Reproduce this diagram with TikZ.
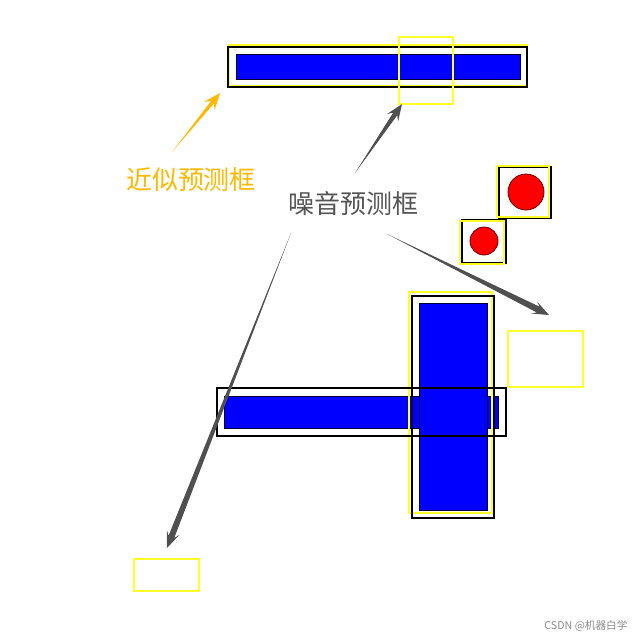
\documentclass[tikz,border=0pt]{standalone}
\usepackage{fontspec}
\newfontfamily\cjk{Noto Sans CJK SC}
\usetikzlibrary{calc}

\definecolor{approxorange}{RGB}{255,185,0}
\definecolor{noisegray}{RGB}{80,80,80}
\definecolor{labelgray}{RGB}{85,85,85}
\definecolor{boxyellow}{RGB}{255,255,40}

\tikzset{
  gtbox/.style={draw=black, line width=1.5pt},
  predbox/.style={draw=boxyellow, line width=1.5pt},
  bluebar/.style={fill=blue, draw=black!80!blue, line width=0.6pt},
  redball/.style={fill=red, draw=black!60!red, line width=0.6pt},
  cjklabel/.style={font=\cjk\fontsize{19.5pt}{22pt}\selectfont, inner sep=0pt},
}

% tapered arrow: colour, tail, tip, half width at the head
\newcommand{\taperarrow}[4]{%
  \coordinate (headback) at ($(#3)!12.5pt!(#2)$);
  \coordinate (headneck) at ($(#3)!9pt!(#2)$);
  \fill[#1] (#2) -- ($(headneck)!#4!90:(#3)$) -- ($(headback)!5pt!90:(#3)$)
    -- (#3) -- ($(headback)!5pt!-90:(#3)$) -- ($(headneck)!#4!-90:(#3)$) -- cycle;
}

\begin{document}
\begin{tikzpicture}[x=0.75pt, y=-0.75pt]

    \useasboundingbox[fill=white] (0,0) rectangle (640,637);

    % Top bar
    \draw[predbox] (229,45) rectangle (527,86);
    \draw[gtbox] (228,47) rectangle (527,87);
    \draw[bluebar] (236,54) rectangle (520,79);
    \draw[predbox] (399,37) rectangle (453,104);

    % Red balls
    \draw[gtbox] (499,167) rectangle (551,218);
    \draw[predbox] (497,166) rectangle (549,217);
    \draw[redball] (526,192) circle (18);
    \draw[gtbox] (462,220) rectangle (506,263);
    \draw[predbox] (460,221) rectangle (504,264);
    \draw[redball] (484,241) circle (14);

    % Crossing bars
    \draw[bluebar] (224,396) rectangle (498,428);
    \draw[bluebar] (419,303) rectangle (487,510);
    \draw[predbox] (409,292) rectangle (492,513);
    \draw[gtbox] (412,296) rectangle (494,518);
    \draw[gtbox] (217,388) rectangle (506,436);

    % Empty noise boxes
    \draw[predbox] (508,331) rectangle (583,387);
    \draw[predbox] (134,559) rectangle (199,591);

    % Labels
    \node[cjklabel, text=approxorange] (approxlabel) at (191,180) {近似预测框};
    \node[cjklabel, text=labelgray] (noiselabel) at (353,204) {噪音预测框};
    \node[font=\cjk\fontsize{8pt}{9pt}\selectfont, text=black!45, inner sep=0pt]
      (watermark) at (586,626) {CSDN @机器白学};

    % Arrow ends
    \coordinate (approxtail) at (172,152);
    \coordinate (approxtip) at (220,93);
    \coordinate (noisetailA) at (355,173);
    \coordinate (noisetipA) at (402,104);
    \coordinate (noisetailB) at (387,234);
    \coordinate (noisetipB) at (549,315);
    \coordinate (noisetailC) at (291,233);
    \coordinate (noisetipC) at (167,548);

    % Arrows
    \taperarrow{approxorange}{approxtail}{approxtip}{1.4pt}
    \taperarrow{noisegray}{noisetailA}{noisetipA}{1.8pt}
    \taperarrow{noisegray}{noisetailB}{noisetipB}{2.4pt}
    \taperarrow{noisegray}{noisetailC}{noisetipC}{2.3pt}

\end{tikzpicture}
\end{document}
